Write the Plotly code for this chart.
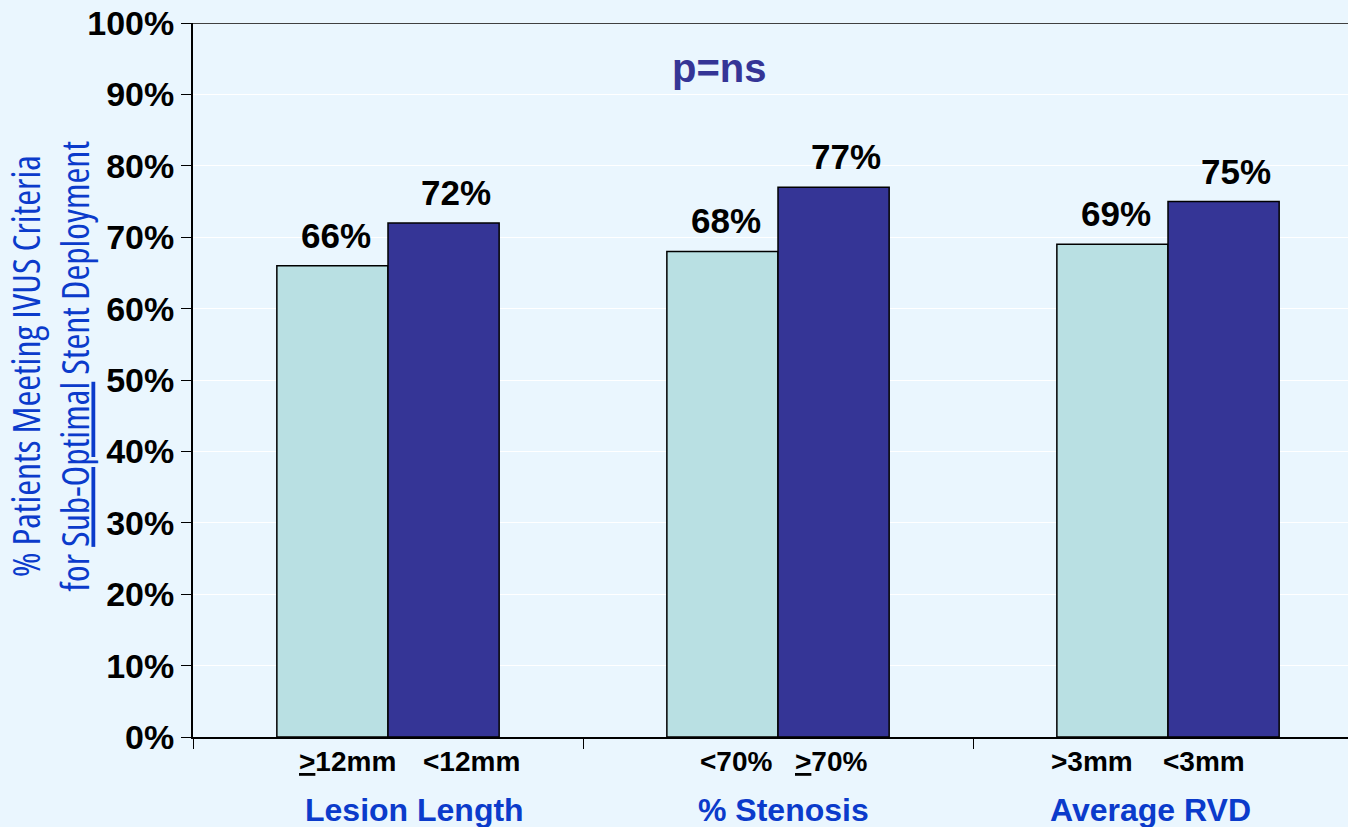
import plotly.graph_objects as go

# Groups and the two subgroups compared within each
groups = ["Lesion Length", "% Stenosis", "Average RVD"]
first_labels = ["<u>></u>12mm", "<70%", ">3mm"]
second_labels = ["<12mm", "<u>></u>70%", "<3mm"]
first_values = [66, 68, 69]
second_values = [72, 77, 75]
y_ticks = [0, 10, 20, 30, 40, 50, 60, 70, 80, 90, 100]

BG = "#EAF6FE"
LIGHT = "#B9E0E3"
DARK = "#353596"
BLUE = "#0B3BCB"
FONT = "Liberation Sans, Arial"

fig = go.Figure()
for vals, color in [(first_values, LIGHT), (second_values, DARK)]:
    fig.add_trace(go.Bar(
        x=groups, y=vals,
        marker=dict(color=color, line=dict(color="black", width=1.5)),
        showlegend=False,
        hoverinfo="skip",
    ))

annotations = []

# Value labels above each bar (pixel shift puts them over the right bar of the pair)
for vals, dx in [(first_values, -52), (second_values, 68)]:
    for g, v in zip(groups, vals):
        annotations.append(dict(
            x=g, xref="x", y=v, yref="y", yanchor="bottom", xshift=dx, yshift=9,
            text=f"<b>{v}%</b>", showarrow=False,
            font=dict(family=FONT, size=35, color="black"),
        ))

# Subgroup labels under each bar and group titles below them
sub_x = [(-0.103, 0.215), (0.892, 1.138), (1.805, 2.092)]
title_x = [0.069, 1.013, 1.956]
for i in range(len(groups)):
    for lab, xx in zip((first_labels[i], second_labels[i]), sub_x[i]):
        annotations.append(dict(
            x=xx, xref="x", y=0, yref="paper", yanchor="middle", yshift=-24,
            text=f"<b>{lab}</b>", showarrow=False,
            font=dict(family=FONT, size=28, color="black"),
        ))
    annotations.append(dict(
        x=title_x[i], xref="x", y=0, yref="paper", yanchor="middle", yshift=-73,
        text=f"<b>{groups[i]}</b>", showarrow=False,
        font=dict(family=FONT, size=32, color=BLUE),
    ))

annotations.append(dict(
    x=0.4554, xref="paper", y=93.7, yref="y", yanchor="middle",
    text="<b>p=ns</b>", showarrow=False,
    font=dict(family=FONT, size=40, color=DARK),
))

# Condensed two-line axis title
cond = "font-stretch:75%"
annotations.append(dict(
    x=-0.124, xref="paper", y=0.52, yref="paper", xanchor="center", yanchor="middle",
    textangle=-90, showarrow=False,
    text=(f"<span style='{cond}'>% Patients Meeting IVUS Criteria</span><br>"
          f"<span style='{cond}'>for <u>Sub-Optimal</u> Stent Deployment</span>"),
    font=dict(family="Open Sans", size=38, color=BLUE),
))

fig.update_layout(
    width=1348, height=827,
    margin=dict(l=193, r=0, t=23, b=90),
    paper_bgcolor=BG, plot_bgcolor=BG,
    barmode="group", bargap=0.43, bargroupgap=0,
    annotations=annotations,
    shapes=[dict(type="line", xref="paper", x0=0, x1=1, yref="y", y0=100, y1=100,
                 line=dict(color="#404040", width=2))],
)
fig.update_xaxes(
    range=[-0.5, 2.4615], tickson="boundaries", ticks="outside", ticklen=10,
    tickcolor="black", tickwidth=1, showticklabels=False,
    showline=True, linecolor="black", linewidth=2, showgrid=False,
)
fig.update_yaxes(
    range=[0, 100], tickvals=y_ticks, ticktext=[f"<b>{t}%</b>" for t in y_ticks],
    ticks="outside", ticklen=10, tickcolor="black", tickwidth=1,
    tickfont=dict(family=FONT, size=34, color="black"),
    showline=True, linecolor="black", linewidth=2,
    showgrid=True, gridcolor="white", gridwidth=1, zeroline=False,
)

fig.write_html("out.html")
